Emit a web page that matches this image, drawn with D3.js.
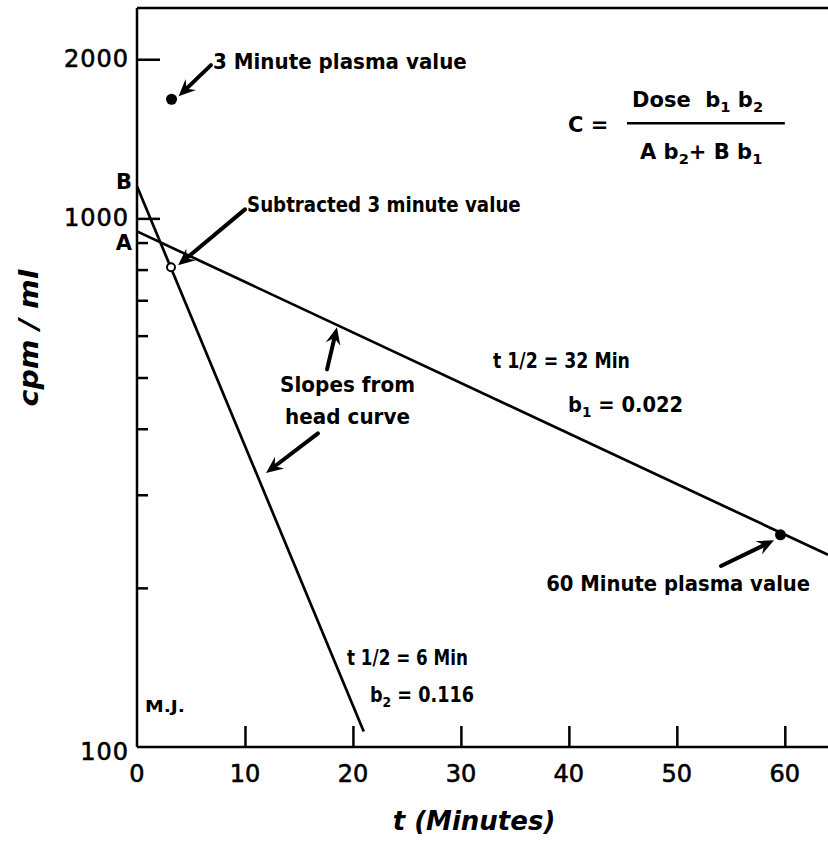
<!DOCTYPE html>
<html><head><meta charset="utf-8">
<script src="https://cdn.jsdelivr.net/npm/d3@7"></script>
<style>body{margin:0;background:#fff}</style>
</head><body>
<svg id="c" width="828" height="842"></svg>
<script>
// ---- data ----
const xDomain = [0, 64];
const yDomain = [100, 2500];
const xTicks = [10, 20, 30, 40, 50, 60];
const xTickLabels = [0, 10, 20, 30, 40, 50, 60];
const yMajorTicks = [1000, 2000];
const yMinorTicks = [200, 300, 400, 500, 600, 700, 800, 900];
const yTickLabels = [100, 1000, 2000];
const slowLine = [[0, 945], [64, 231]];     // A, b1 = 0.022
const fastLine = [[0, 1150], [21, 107]];    // B, b2 = 0.116
const plasmaPoints = [[3.2, 1680], [59.6, 252]];
const subtractedPoints = [[3.15, 808]];
const interceptA = 945, interceptB = 1150;
// arrows: [fromT, fromV, toT, toV]
const arrows = [
  [6.85, 1949, 3.85, 1702],
  [10.0, 1040, 3.8, 815],
  [17.6, 518, 18.52, 622],
  [16.76, 392, 11.95, 330],
  [54.09, 220, 59.0, 246]
];
// labels: [text, t, v, anchor, fontSize, width]
const labels = [
  ["3 Minute plasma value", 7.04, 1915, "start", 20, 254],
  ["Subtracted 3 minute value", 10.19, 1026, "start", 20, 274],
  ["Slopes from", 19.5, 470, "middle", 20, 135],
  ["head curve", 19.5, 409, "middle", 20, 125],
  ["t 1/2 = 32 Min", 32.97, 520, "start", 20, 137],
  ["60 Minute plasma value", 37.9, 197.4, "start", 20, 264],
  ["t 1/2 = 6 Min", 19.45, 143, "start", 20, 121],
  ["M.J.", 0.74, 116.5, "start", 15, 40]
];

// ---- chart ----
const svg = d3.select("#c");
const x = d3.scaleLinear().domain(xDomain).range([137, 828]);
const y = d3.scaleLog().domain(yDomain).range([747, 8]);
const font = "'DejaVu Sans', sans-serif";

// frame
svg.append("line").attr("x1", x(0)).attr("x2", x(64)).attr("y1", y(2500)).attr("y2", y(2500))
  .attr("stroke", "#000").attr("stroke-width", 2.5);

// x axis (ticks inward)
const xAxis = d3.axisBottom(x).tickValues(xTicks).tickSize(-21).tickFormat("");
const gx = svg.append("g").attr("transform", `translate(0,${y(100)})`).call(xAxis);
gx.select(".domain").attr("stroke-width", 2.5).attr("d", `M${x(0)},0H${x(64)}`);
gx.selectAll(".tick line").attr("stroke-width", 2.5);
svg.selectAll(".xlab").data(xTickLabels).join("text")
  .attr("x", d => x(d)).attr("y", y(100) + 35)
  .attr("text-anchor", "middle").attr("font-family", font).attr("font-size", 24)
  .attr("stroke", "#000").attr("stroke-width", 0.6).text(d => d);

// y axis
const gyMaj = svg.append("g").attr("transform", `translate(${x(0)},0)`)
  .call(d3.axisRight(y).tickValues(yMajorTicks).tickSize(23).tickFormat(""));
gyMaj.select(".domain").attr("stroke-width", 2.5).attr("d", `M0,${y(2500)}V${y(100)}`);
gyMaj.selectAll(".tick line").attr("stroke-width", 2.5);
const gyMin = svg.append("g").attr("transform", `translate(${x(0)},0)`)
  .call(d3.axisRight(y).tickValues(yMinorTicks).tickSize(11).tickFormat(""));
gyMin.select(".domain").remove();
gyMin.selectAll(".tick line").attr("stroke-width", 2.5);
svg.selectAll(".ylab").data(yTickLabels).join("text")
  .attr("x", x(0) - 8).attr("y", d => y(d) + (d === 100 ? 13 : 8))
  .attr("text-anchor", "end").attr("font-family", font).attr("font-size", 24)
  .attr("letter-spacing", 1)
  .attr("stroke", "#000").attr("stroke-width", 0.6).text(d => d);

// A and B labels
svg.append("text").attr("x", x(0) - 5).attr("y", y(interceptB) + 3).attr("text-anchor", "end")
  .attr("font-family", font).attr("font-weight", "bold").attr("font-size", 21).text("B");
svg.append("text").attr("x", x(0) - 5).attr("y", y(interceptA) + 19).attr("text-anchor", "end")
  .attr("font-family", font).attr("font-weight", "bold").attr("font-size", 21).text("A");

// lines
const line = d3.line().x(d => x(d[0])).y(d => y(d[1]));
[slowLine, fastLine].forEach(l => {
  svg.append("path").attr("d", line(l)).attr("fill", "none").attr("stroke", "#000").attr("stroke-width", 2.7);
});

// points
svg.selectAll(".pp").data(plasmaPoints).join("circle")
  .attr("cx", d => x(d[0])).attr("cy", d => y(d[1])).attr("r", 5.5).attr("fill", "#000");
svg.selectAll(".sp").data(subtractedPoints).join("circle")
  .attr("cx", d => x(d[0])).attr("cy", d => y(d[1])).attr("r", 4).attr("fill", "#fff")
  .attr("stroke", "#000").attr("stroke-width", 2);

// arrows
arrows.forEach(a => {
  const x1 = x(a[0]), y1 = y(a[1]), x2 = x(a[2]), y2 = y(a[3]);
  const ang = Math.atan2(y2 - y1, x2 - x1);
  const L = 17, W = 7.5, N = 11;
  const bx = x2 - N * Math.cos(ang), by = y2 - N * Math.sin(ang);
  svg.append("line").attr("x1", x1).attr("y1", y1).attr("x2", bx).attr("y2", by)
    .attr("stroke", "#000").attr("stroke-width", 4).attr("stroke-linecap", "round");
  const c = Math.cos(ang), s = Math.sin(ang);
  const p = (u, v) => [x2 + u * c - v * s, y2 + u * s + v * c];
  const pts = [p(0, 0), p(-L, -W), p(-N, 0), p(-L, W)];
  svg.append("path").attr("d", "M" + pts.map(q => q.join(",")).join("L") + "Z").attr("fill", "#000");
});

// text labels, horizontally scaled to the reference width, slightly tall
labels.forEach(l => {
  const t = svg.append("text").attr("text-anchor", l[3])
    .attr("font-family", font).attr("font-weight", "bold").attr("font-size", l[4]).text(l[0]);
  const w = t.node().getComputedTextLength();
  t.attr("transform", `translate(${x(l[1])},${y(l[2])}) scale(${l[5] / w},1.08)`);
});

// subscripted labels: parts = [text, isSub]
function subText(tt, vv, parts, size, sx) {
  const t = svg.append("text")
    .attr("transform", `translate(${x(tt)},${y(vv)}) scale(${sx || 1},1)`)
    .attr("font-family", font).attr("font-weight", "bold").attr("font-size", size)
    .attr("xml:space", "preserve");
  let lowered = false;
  parts.forEach(p => {
    const ts = t.append("tspan").text(p[0]);
    if (p[1]) { ts.attr("font-size", size * 0.7).attr("dy", 5); lowered = true; }
    else if (lowered) { ts.attr("dy", -5); lowered = false; }
  });
  return t;
}
subText(39.92, 431, [["b"], ["1", true], [" = 0.022"]], 21, 0.93);
subText(21.58, 121.7, [["b"], ["2", true], [" = 0.116"]], 21, 0.84);

// formula
svg.append("text").attr("x", x(39.92)).attr("y", y(1455)).attr("font-family", font)
  .attr("font-weight", "bold").attr("font-size", 21).attr("xml:space", "preserve").text("C =");
subText(45.85, 1623, [["Dose  b"], ["1", true], [" b"], ["2", true]], 21);
svg.append("line").attr("x1", x(45.38)).attr("x2", x(60.0)).attr("y1", y(1513)).attr("y2", y(1513))
  .attr("stroke", "#000").attr("stroke-width", 2.5);
subText(46.59, 1293, [["A b"], ["2", true], ["+ B b"], ["1", true]], 21);

// axis titles
svg.append("text").attr("transform", `translate(38,338) rotate(-90)`).attr("text-anchor", "middle")
  .attr("font-family", font).attr("font-weight", "bold").attr("font-style", "italic").attr("font-size", 26)
  .attr("xml:space", "preserve").attr("textLength", 137).attr("lengthAdjust", "spacingAndGlyphs").text("cpm / ml");
svg.append("text").attr("x", 474).attr("y", 830).attr("text-anchor", "middle")
  .attr("font-family", font).attr("font-weight", "bold").attr("font-style", "italic").attr("font-size", 26)
  .text("t (Minutes)");
</script>
</body></html>
